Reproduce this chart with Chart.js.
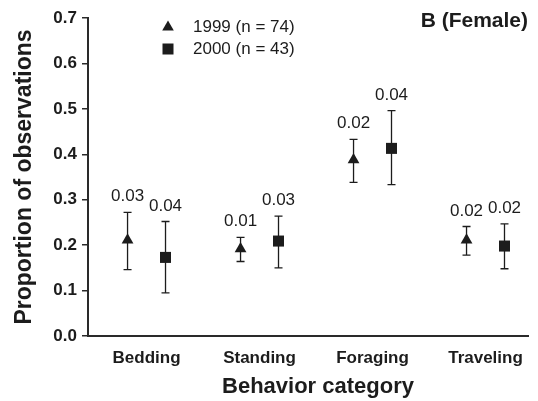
<!DOCTYPE html>
<html>
<head>
<meta charset="utf-8">
<script src="https://cdn.jsdelivr.net/npm/chart.js@4.4.1/dist/chart.umd.min.js"></script>
<style>
  html, body { margin: 0; padding: 0; background: #fff; }
  #wrap { width: 538px; height: 401px; }
</style>
</head>
<body>
<div id="wrap"><canvas id="chart"></canvas></div>
<script>
/* Data */
const categories = ["Bedding", "Standing", "Foraging", "Traveling"];
const yTicks = [0, 0.1, 0.2, 0.3, 0.4, 0.5, 0.6, 0.7];

const mean1999 = [0.211, 0.192, 0.388, 0.211];
const low1999  = [0.146, 0.164, 0.338, 0.178];
const high1999 = [0.272, 0.217, 0.433, 0.241];
const se1999   = ["0.03", "0.01", "0.02", "0.02"];

const mean2000 = [0.173, 0.209, 0.413, 0.198];
const low2000  = [0.095, 0.150, 0.333, 0.148];
const high2000 = [0.252, 0.264, 0.496, 0.247];
const se2000   = ["0.04", "0.03", "0.04", "0.02"];

const legendText = ["1999 (n = 74)", "2000 (n = 43)"];
const panelTitle = "B (Female)";

/* Styles */
const INK = "#1c1c1c";
const FONT = "'Liberation Sans', Arial, Helvetica, sans-serif";
const SHIFT = 0.168;   // horizontal offset of each year from its category

function points(means, lows, highs, labels, dx){
    return means.map(function(v, i){
        return {x: i + 1 + dx, y: v, lo: lows[i], hi: highs[i], lab: labels[i]};
    });
}

/* Error bars and the numbers above them */
const errorBars = {
    id: "errorBars",
    beforeDatasetsDraw(chart){
        const ctx = chart.ctx;
        const xs = chart.scales.x, ys = chart.scales.y;
        ctx.save();
        ctx.strokeStyle = INK;
        ctx.lineWidth = 1.3;
        chart.data.datasets.forEach(function(ds){
            ds.data.forEach(function(p){
                const x = xs.getPixelForValue(p.x);
                const top = ys.getPixelForValue(p.hi);
                const bot = ys.getPixelForValue(p.lo);
                ctx.beginPath();
                ctx.moveTo(x, top); ctx.lineTo(x, bot);
                ctx.moveTo(x - 4, top); ctx.lineTo(x + 4, top);
                ctx.moveTo(x - 4, bot); ctx.lineTo(x + 4, bot);
                ctx.stroke();
            });
        });
        ctx.restore();
    },
    afterDatasetsDraw(chart){
        const ctx = chart.ctx;
        const xs = chart.scales.x, ys = chart.scales.y;
        ctx.save();
        ctx.fillStyle = INK;
        ctx.font = "17px " + FONT;
        ctx.textAlign = "center";
        ctx.textBaseline = "alphabetic";
        chart.data.datasets.forEach(function(ds){
            ds.data.forEach(function(p){
                ctx.fillText(p.lab, xs.getPixelForValue(p.x), ys.getPixelForValue(p.hi) - 11);
            });
        });
        ctx.restore();
    }
};

/* Legend, panel title and axis titles */
const decorations = {
    id: "decorations",
    afterDraw(chart){
        const ctx = chart.ctx;
        const area = chart.chartArea;
        ctx.save();
        ctx.fillStyle = INK;

        // legend markers
        const lx = 168;
        ctx.beginPath();
        ctx.moveTo(lx, 27 - 6.6);
        ctx.lineTo(lx + 5.8, 27 + 3.4);
        ctx.lineTo(lx - 5.8, 27 + 3.4);
        ctx.closePath();
        ctx.fill();
        ctx.fillRect(lx - 5.5, 49 - 5.5, 11, 11);

        ctx.font = "17px " + FONT;
        ctx.textAlign = "left";
        ctx.textBaseline = "middle";
        ctx.fillText(legendText[0], 193, 27);
        ctx.fillText(legendText[1], 193, 49);

        ctx.font = "bold 21px " + FONT;
        ctx.textAlign = "right";
        ctx.fillText(panelTitle, 528, 21);

        ctx.font = "bold 22px " + FONT;
        ctx.textAlign = "center";
        ctx.textBaseline = "alphabetic";
        ctx.fillText("Behavior category", 318, 393);

        ctx.font = "bold 23px " + FONT;
        ctx.translate(31, (area.top + area.bottom) / 2);
        ctx.rotate(-Math.PI / 2);
        ctx.fillText("Proportion of observations", 0, 0);
        ctx.restore();
    }
};

new Chart(document.getElementById("chart"), {
    type: "scatter",
    data: {
        datasets: [
            {
                label: legendText[0],
                data: points(mean1999, low1999, high1999, se1999, -SHIFT),
                pointStyle: "triangle",
                pointRadius: 6.8,
                pointHoverRadius: 6.8,
                backgroundColor: INK,
                borderColor: INK,
                borderWidth: 0
            },
            {
                label: legendText[1],
                data: points(mean2000, low2000, high2000, se2000, SHIFT),
                pointStyle: "rect",
                pointRadius: 7.8,
                pointHoverRadius: 7.8,
                backgroundColor: INK,
                borderColor: INK,
                borderWidth: 0
            }
        ]
    },
    options: {
        responsive: true,
        maintainAspectRatio: false,
        animation: false,
        layout: {padding: {left: 0, right: 10, top: 18, bottom: 0}},
        plugins: {
            legend: {display: false},
            tooltip: {enabled: false}
        },
        scales: {
            x: {
                type: "linear",
                min: 0.482,
                max: 4.376,
                afterBuildTicks: function(scale){
                    scale.ticks = categories.map(function(_, i){ return {value: i + 1}; });
                },
                afterFit: function(scale){ scale.height = 65; },
                grid: {display: false, drawTicks: false},
                border: {display: true, color: "#2a2a2a", width: 2},
                ticks: {
                    padding: 12,
                    color: INK,
                    font: {family: FONT, size: 17, weight: "bold"},
                    callback: function(value){ return categories[value - 1]; }
                }
            },
            y: {
                min: 0,
                max: 0.7,
                afterBuildTicks: function(scale){
                    scale.ticks = yTicks.map(function(v){ return {value: v}; });
                },
                afterFit: function(scale){ scale.width = 88; },
                grid: {display: true, drawOnChartArea: false, drawTicks: true, tickLength: 6, color: "#2a2a2a", lineWidth: 1.5},
                border: {display: true, color: "#2a2a2a", width: 2},
                ticks: {
                    padding: 5,
                    color: INK,
                    font: {family: FONT, size: 17, weight: "bold"},
                    callback: function(value){ return value.toFixed(1); }
                }
            }
        }
    },
    plugins: [errorBars, decorations]
});
</script>
</body>
</html>
